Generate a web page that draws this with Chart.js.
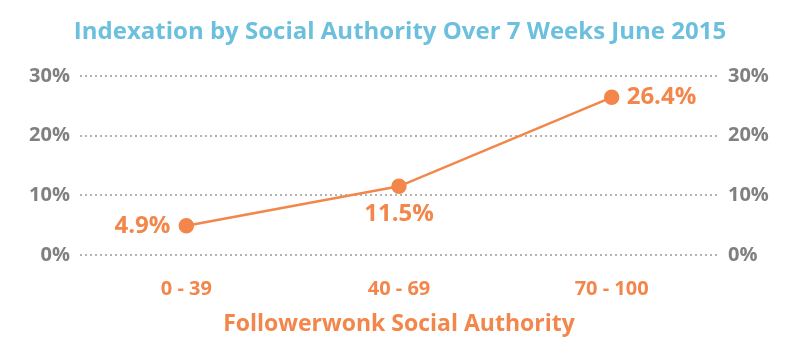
<!DOCTYPE html>
<html lang="en">
<head>
    <meta charset="UTF-8">
    <title>Indexation by Social Authority</title>
    <script src="https://cdn.jsdelivr.net/npm/chart.js@4.4.1/dist/chart.umd.min.js"></script>
    <style>
        html, body { margin: 0; padding: 0; background: #fff; }
        #wrap { width: 800px; height: 354px; }
    </style>
</head>
<body>
    <div id="wrap"><canvas id="indexation-chart"></canvas></div>
    <script>
        // data
        const categories = ['0 - 39', '40 - 69', '70 - 100'];
        const indexation = [4.9, 11.5, 26.4];
        const yTicks = [0, 10, 20, 30];

        const orange = '#f3864a';
        const grey = '#808080';
        const font = '"Open Sans", Lato, sans-serif';

        // where each value label sits relative to its point
        const labelSide = ['left', 'below', 'right'];

        const valueLabels = {
            id: 'valueLabels',
            afterDatasetsDraw(chart) {
                const ctx = chart.ctx;
                const meta = chart.getDatasetMeta(0);
                ctx.save();
                ctx.fillStyle = orange;
                ctx.font = 'bold 24px ' + font;
                ctx.textBaseline = 'middle';
                meta.data.forEach((pt, i) => {
                    const txt = indexation[i].toFixed(1) + '%';
                    const side = labelSide[i];
                    if (side === 'left') {
                        ctx.textAlign = 'right';
                        ctx.fillText(txt, pt.x - 16, pt.y);
                    } else if (side === 'right') {
                        ctx.textAlign = 'left';
                        ctx.fillText(txt, pt.x + 15, pt.y);
                    } else {
                        ctx.textAlign = 'center';
                        ctx.fillText(txt, pt.x, pt.y + 28);
                    }
                });
                ctx.restore();
            }
        };

        const tickFont = { family: font, size: 20, weight: 'bold' };
        const yScale = (pos) => ({
            position: pos,
            min: 0,
            max: 30,
            afterBuildTicks: scale => { scale.ticks = yTicks.map(v => ({ value: v })); },
            afterFit: scale => { scale.width = pos === 'left' ? 80 : 82; },
            ticks: {
                color: grey,
                font: tickFont,
                padding: 10,
                callback: v => v + '%'
            },
            grid: {
                display: pos === 'left',
                color: '#b3b3b3',
                lineWidth: 2,
                drawTicks: false
            },
            border: { display: false, dash: [2, 3] }
        });

        new Chart(document.getElementById('indexation-chart'), {
            type: 'line',
            data: {
                labels: categories,
                datasets: [{
                    data: indexation,
                    borderColor: orange,
                    backgroundColor: orange,
                    borderWidth: 2.5,
                    pointRadius: 6.5,
                    pointHoverRadius: 6.5,
                    tension: 0,
                    yAxisID: 'y'
                }]
            },
            options: {
                responsive: true,
                maintainAspectRatio: false,
                animation: false,
                layout: { padding: { top: 18, bottom: 16, left: 0, right: 0 } },
                plugins: {
                    legend: { display: false },
                    tooltip: { enabled: false },
                    title: {
                        display: true,
                        text: 'Indexation by Social Authority Over 7 Weeks June 2015',
                        color: '#6cc0dd',
                        font: { family: font, size: 24, weight: 'bold' },
                        padding: { top: 0, bottom: 29 }
                    }
                },
                scales: {
                    x: {
                        offset: true,
                        afterFit: scale => { scale.height = 83; },
                        grid: { display: false, drawTicks: false },
                        border: { display: false },
                        ticks: {
                            color: orange,
                            font: { family: font, size: 20, weight: 'bold' },
                            padding: 22
                        },
                        title: {
                            display: true,
                            text: 'Followerwonk Social Authority',
                            color: orange,
                            font: { family: font, size: 23, weight: 'bold' },
                            padding: { top: 0, bottom: 0 }
                        }
                    },
                    y: yScale('left'),
                    y2: yScale('right')
                }
            },
            plugins: [valueLabels]
        });
    </script>
</body>
</html>
